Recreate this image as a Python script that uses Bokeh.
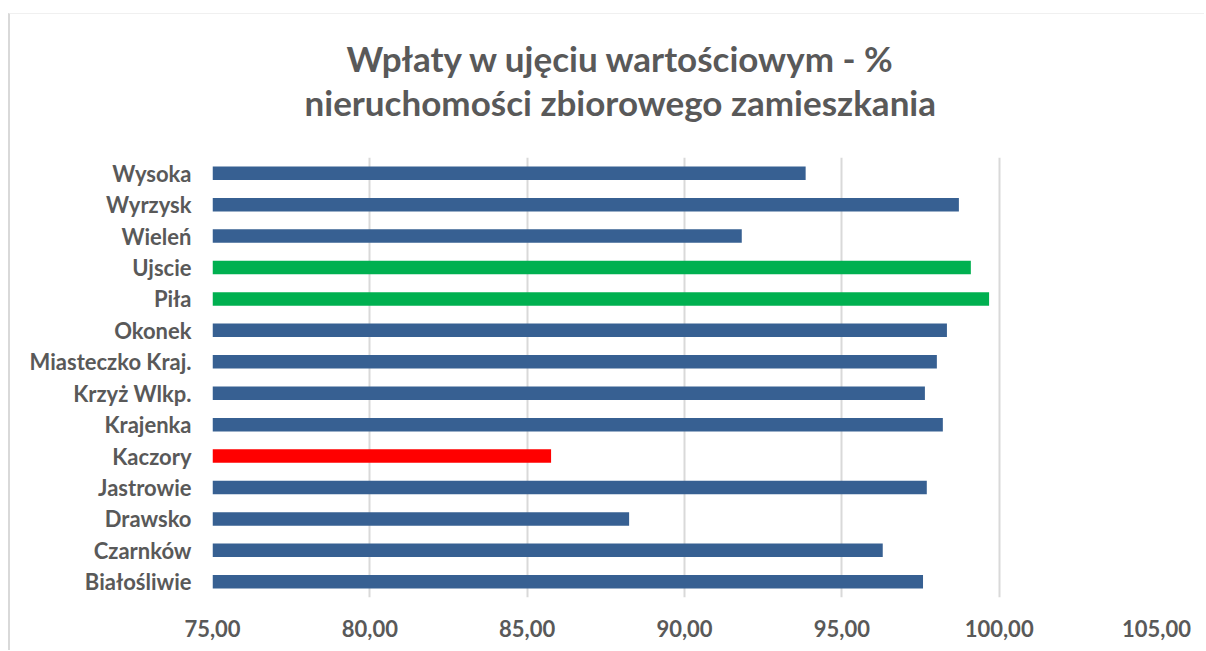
from bokeh.plotting import figure
from bokeh.models import (FixedTicker, Range1d, FactorRange, ColumnDataSource,
                          Title, LinearAxis)
from bokeh.embed import file_html
from bokeh.resources import INLINE

# ---- data (bottom to top, as in the chart) ----
categories = ["Białośliwie", "Czarnków", "Drawsko", "Jastrowie", "Kaczory",
              "Krajenka", "Krzyż Wlkp.", "Miasteczko Kraj.", "Okonek", "Piła",
              "Ujscie", "Wieleń", "Wyrzysk", "Wysoka"]
values = [97.58, 96.30, 88.24, 97.70, 85.76,
          98.21, 97.64, 98.02, 98.34, 99.68,
          99.10, 91.82, 98.72, 93.85]
bar_colors = ["#376092", "#376092", "#376092", "#376092", "#FF0000",
              "#376092", "#376092", "#376092", "#376092", "#00B050",
              "#00B050", "#376092", "#376092", "#376092"]
tick_values = [75, 80, 85, 90, 95, 100, 105]
tick_labels = ["75,00", "80,00", "85,00", "90,00", "95,00", "100,00", "105,00"]
title_line1 = "Wpłaty w ujęciu wartościowym - %"
title_line2 = "nieruchomości zbiorowego zamieszkania"

FONT = "Lato"
GREY = "#595959"

source = ColumnDataSource(dict(cat=categories, val=values, color=bar_colors))

p = figure(width=1196, height=637, output_backend="svg", toolbar_location=None,
           y_range=FactorRange(factors=categories),
           x_range=Range1d(75, 105),
           min_border_left=202, min_border_right=50,
           min_border_top=143, min_border_bottom=54)

p.hbar(y="cat", left=75, right="val", height=0.43, color="color",
       line_color=None, source=source)

# bottom value axis
xax = p.below[0]
xax.ticker = FixedTicker(ticks=tick_values)
xax.major_label_overrides = {v: l for v, l in zip(tick_values, tick_labels)}
xax.major_label_text_font = FONT
xax.major_label_text_font_size = "22px"
xax.major_label_text_font_style = "bold"
xax.major_label_text_color = GREY
xax.major_label_standoff = 16
xax.axis_line_color = None
xax.major_tick_line_color = None
xax.minor_tick_line_color = None

# invisible spacer axis between plot and title (one hidden tick, labels not drawn)
spacer = LinearAxis(ticker=FixedTicker(ticks=[90], minor_ticks=[]),
                    major_tick_out=35, major_tick_in=0, axis_line_color=None,
                    major_tick_line_color=None, minor_tick_line_color=None,
                    major_label_text_color=None, major_label_standoff=0,
                    major_label_text_font_size="1px")
p.add_layout(spacer, "above")

# two-line title (line nearest the plot is added first)
p.add_layout(Title(text=title_line2, align="left", offset=92, standoff=0,
                   text_font=FONT, text_font_size="35px",
                   text_font_style="bold", text_color=GREY), "above")
p.add_layout(Title(text=title_line1, align="left", offset=134, standoff=0,
                   text_font=FONT, text_font_size="35px",
                   text_font_style="bold", text_color=GREY), "above")

yax = p.left[0]
yax.major_label_text_font = FONT
yax.major_label_text_font_size = "22px"
yax.major_label_text_font_style = "bold"
yax.major_label_text_color = GREY
yax.major_label_standoff = 15
yax.axis_line_color = None
yax.major_tick_line_color = None

p.xgrid.grid_line_color = "#d9d9d9"
p.xgrid.grid_line_width = 2
p.ygrid.grid_line_color = None
p.outline_line_color = None
p.styles = {"margin-left": "8px", "margin-top": "13px",
            "border-left": "2px solid #d9d9d9",
            "border-top": "1px solid #f0f0f0"}

open("out.html", "w").write(file_html(p, INLINE))
